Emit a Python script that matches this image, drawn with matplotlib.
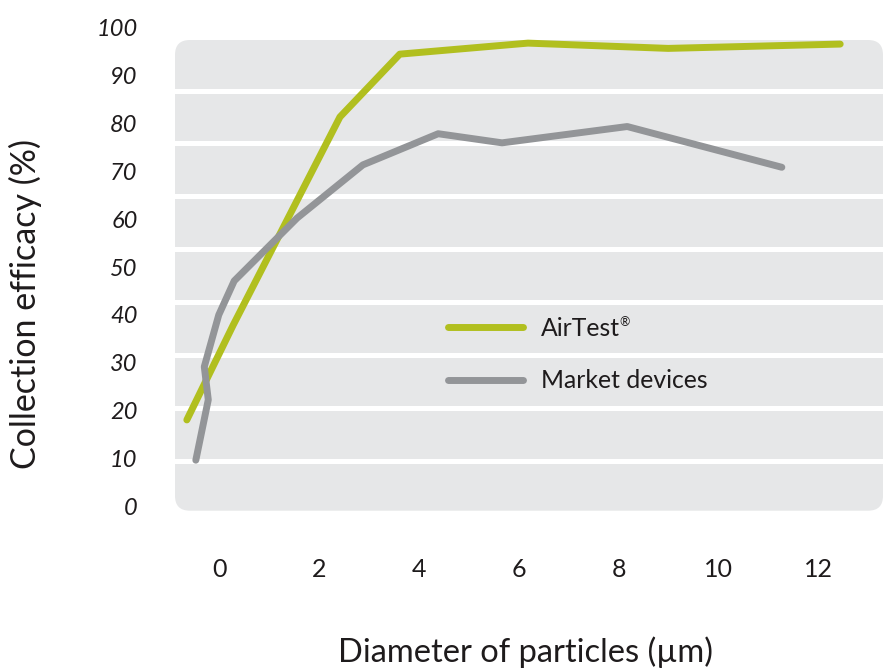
import matplotlib
matplotlib.use("Agg")
import matplotlib.pyplot as plt
from matplotlib.patches import FancyBboxPatch
import numpy as np

plt.rcParams['font.family'] = ['Lato', 'DejaVu Sans']

# particle diameter (um) and collection efficacy (%)
airtest_x = [-0.66, 0.27, 2.41, 3.61, 6.18, 8.99, 12.44]
airtest_y = [18.1, 37.9, 81.3, 94.4, 96.7, 95.6, 96.5]

market_x = [-0.48, -0.23, -0.31, -0.02, 0.29, 1.55, 2.87, 4.38, 5.66, 8.17, 11.27]
market_y = [9.7, 22.3, 29.2, 40.0, 47.1, 60.2, 71.3, 77.8, 75.9, 79.3, 70.8]

x_ticks = [0, 2, 4, 6, 8, 10, 12]
y_ticks = list(range(0, 101, 10))

green = '#b1bf1f'
grey = '#939598'
panel = '#e6e7e8'
ink = '#1e1b1c'

W, H = 883, 668
fig = plt.figure(figsize=(W / 100, H / 100), dpi=100)

# rounded grey panel with white stripes
bl, bb, bw, bh = 175, 510.7, 708, 470.7
ax_bg = fig.add_axes([bl / W, (H - bb) / H, bw / W, bh / H], zorder=0)
ax_bg.set_xlim(0, 1)
ax_bg.set_ylim(0, 1)
ax_bg.axis('off')
ax_bg.add_patch(FancyBboxPatch((0, 0), 1, 1,
                               boxstyle="round,pad=0,rounding_size=0.021",
                               mutation_aspect=bw / bh,
                               fc=panel, ec='none'))
for k in range(8):
    ax_bg.axhline(1 - (50.5 + 52.86 * k) / bh, color='white', lw=3.6)

# data axes
top, bot = 27.3, 506.7
ax = fig.add_axes([bl / W, (H - bot) / H, (W - bl) / W, (bot - top) / H], zorder=1)
ax.patch.set_alpha(0)
ax.set_xlim((175 - 219.75) / 49.875, (883 - 219.75) / 49.875)
ax.set_ylim(0, 100)

l1, = ax.plot(airtest_x, airtest_y, color=green, lw=5, solid_capstyle='round',
              clip_on=False, zorder=2)
l2, = ax.plot(market_x, market_y, color=grey, lw=5, solid_capstyle='round',
              clip_on=False, zorder=3)

for s in ax.spines.values():
    s.set_visible(False)
ax.set_xticks(x_ticks)
ax.set_yticks(y_ticks)
ax.set_xticklabels([str(v) for v in x_ticks], fontsize=18, color=ink)
ax.set_yticklabels([str(v) for v in y_ticks], fontsize=17, style='italic', color=ink)
ax.tick_params(axis='x', length=0, pad=37)
ax.tick_params(axis='y', length=0, pad=27)

fig.text(25 / W, 1 - 304 / H, 'Collection efficacy (%)', rotation=90,
         ha='center', va='center', fontsize=24.5, color=ink)
fig.text(525 / W, 1 - 652 / H, 'Diameter of particles (µm)',
         ha='center', va='center', fontsize=23.5, color=ink)

leg = ax.legend([l1, l2], ['AirTest', 'Market devices'],
                loc='center left', bbox_to_anchor=(436 / W, 1 - 354.5 / H),
                bbox_transform=fig.transFigure, frameon=False, borderpad=0,
                handlelength=3.0, handletextpad=0.75, labelspacing=1.2,
                prop={'size': 17.8}, labelcolor=ink)

# small registered mark after "AirTest"
fig.canvas.draw()
bbox = leg.get_texts()[0].get_window_extent()
fig.text((bbox.x1 - 1) / W, (bbox.y1 + 1) / H, '®', fontsize=9,
         ha='left', va='top', color=ink)

fig.savefig('out.png', dpi=100)
